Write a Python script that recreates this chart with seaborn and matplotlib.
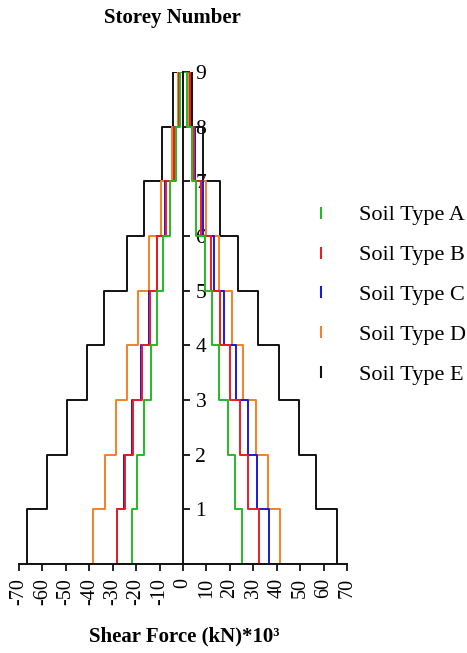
import numpy as np
import pandas as pd
import matplotlib
matplotlib.use("Agg")
import matplotlib.pyplot as plt
from matplotlib.lines import Line2D
import seaborn as sns

# ---------------- data ----------------
soil_types = ["Soil Type A", "Soil Type B", "Soil Type C", "Soil Type D", "Soil Type E"]
storeys = [1, 2, 3, 4, 5, 6, 7, 8, 9]
x_ticks = [-70, -60, -50, -40, -30, -20, -10, 0, 10, 20, 30, 40, 50, 60, 70]

# shear force (kN*10^3) in each storey interval (storey i-1 to i), positive side
pos_A = [25.0, 22.2, 19.1, 15.5, 12.5, 9.4, 5.5, 3.7, 1.9]
pos_B = [32.3, 27.9, 24.3, 20.1, 15.9, 11.8, 7.7, 4.8, 3.0]
pos_C = [36.9, 31.7, 27.6, 22.6, 17.6, 13.4, 8.7, 5.0, 2.8]
pos_D = [41.4, 36.1, 31.0, 25.8, 20.8, 15.4, 9.7, 5.3, 2.5]
pos_E = [65.6, 56.8, 49.4, 41.0, 32.1, 23.6, 15.9, 8.5, 4.0]

# negative side
neg_A = [-21.9, -19.8, -16.6, -13.7, -11.0, -8.4, -5.5, -3.0, -1.3]
neg_B = [-28.0, -24.6, -21.5, -17.6, -14.1, -11.0, -7.4, -3.8, -1.6]
neg_C = [-28.3, -25.0, -21.8, -17.8, -14.3, -11.2, -7.6, -3.9, -1.7]
neg_D = [-38.3, -33.3, -28.6, -23.8, -19.1, -14.5, -9.4, -4.8, -2.0]
neg_E = [-66.7, -58.2, -49.6, -40.8, -33.7, -24.0, -16.5, -9.1, -4.1]

colors = {"Soil Type A": "#22bb22", "Soil Type B": "#ee1c24", "Soil Type C": "#1a1adc",
          "Soil Type D": "#f58025", "Soil Type E": "#111111"}

pos = dict(zip(soil_types, [pos_A, pos_B, pos_C, pos_D, pos_E]))
neg = dict(zip(soil_types, [neg_A, neg_B, neg_C, neg_D, neg_E]))

# build closed step outlines
rows = []
for s in soil_types:
    order = 0
    L, R = neg[s], pos[s]
    for i, st in enumerate(storeys):
        rows.append((s, order, L[i], st - 1)); order += 1
        rows.append((s, order, L[i], st)); order += 1
    for i in range(len(storeys) - 1, -1, -1):
        st = storeys[i]
        rows.append((s, order, R[i], st)); order += 1
        rows.append((s, order, R[i], st - 1)); order += 1
    rows.append((s, order, L[0], 0))
df = pd.DataFrame(rows, columns=["soil", "order", "force", "storey"])

# ---------------- style ----------------
sns.set_style("white")
plt.rcParams["font.family"] = ["Liberation Serif", "DejaVu Serif"]
plt.rcParams["axes.unicode_minus"] = False
plt.rcParams["text.color"] = "black"
plt.rcParams["xtick.color"] = "black"
plt.rcParams["ytick.color"] = "black"

fig = plt.figure(figsize=(4.67, 6.53), dpi=100)
ax = fig.add_axes([19 / 467, 1 - 564 / 653, (347 - 19) / 467, (564 - 72) / 653])

for s in ["Soil Type E", "Soil Type D", "Soil Type C", "Soil Type B", "Soil Type A"]:
    sub = df[df["soil"] == s]
    sns.lineplot(data=sub, x="force", y="storey", sort=False, estimator=None,
                 color=colors[s], linewidth=1.4, ax=ax, legend=False)

ax.yaxis.tick_right()
ax.set_xlim(-70, 70)
ax.set_ylim(0, 9)
ax.set_xticks(x_ticks)
ax.set_xticklabels([str(t) for t in x_ticks], rotation=90)
ax.set_yticks(storeys)
ax.set_yticklabels([str(s) for s in storeys])

ax.spines["left"].set_visible(False)
ax.spines["top"].set_visible(False)
ax.spines["right"].set_position(("data", 0))
ax.spines["right"].set_color("#111111")
ax.spines["right"].set_linewidth(1.4)
ax.spines["bottom"].set_color("#111111")
ax.spines["bottom"].set_linewidth(1.4)
ax.tick_params(axis="x", direction="out", length=5, width=1.2, colors="black",
               pad=5, bottom=True, labelsize=14.5)
ax.tick_params(axis="y", direction="out", length=5, width=1.2, colors="black",
               pad=4, right=True, left=False, labelright=True, labelleft=False,
               labelsize=15.5)
ytl = ax.yaxis.get_major_ticks()
ytl[0].tick2line.set_color("#999999")

ax.set_xlabel("")
ax.set_ylabel("")
ax.grid(False)

fig.text(172 / 467, 1 - 18 / 653, "Storey Number", ha="center", va="center",
         fontsize=15, fontweight="bold", color="black")
fig.text(184 / 467, 1 - 636 / 653, "Shear Force (kN)*10³", ha="center", va="center",
         fontsize=15, fontweight="bold", color="black")

handles = [Line2D([], [], color=colors[s], marker="|", linestyle="None",
                  markersize=9, markeredgewidth=1.5) for s in soil_types]
leg = fig.legend(handles, soil_types, loc="upper left", bbox_to_anchor=(300 / 467, 1 - 196 / 653),
                 frameon=False, fontsize=16, labelspacing=0.87, handlelength=1.09,
                 handletextpad=1.15, borderaxespad=0)
for t in leg.get_texts():
    t.set_color("black")

fig.savefig("out.png", dpi=100)
